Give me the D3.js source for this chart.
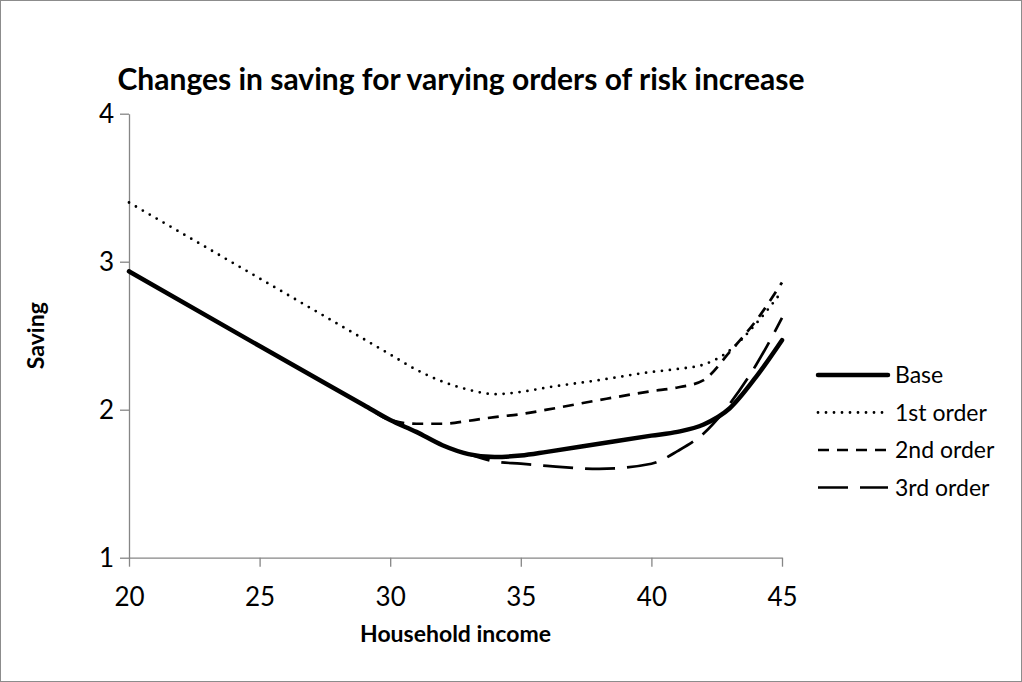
<!DOCTYPE html>
<html>
<head>
<meta charset="utf-8">
<script src="https://cdn.jsdelivr.net/npm/d3@7"></script>
<style>
  body { margin: 0; background: #fff; }
  svg { display: block; font-family: Lato, 'Open Sans', sans-serif; }
</style>
</head>
<body>
<script>
// values
var income = [20, 25, 29, 30, 31, 32, 33, 34, 35, 36, 38, 40, 41, 42, 43, 44, 45];
var base   = [2.935, 2.43, 2.03, 1.93, 1.85, 1.76, 1.70, 1.68, 1.69, 1.715, 1.77, 1.825, 1.85, 1.90, 2.01, 2.22, 2.47];
var first  = [3.40, 2.887, 2.476, 2.373, 2.27, 2.19, 2.135, 2.105, 2.12, 2.15, 2.20, 2.255, 2.275, 2.305, 2.40, 2.58, 2.80];
var second = [2.935, 2.43, 2.03, 1.93, 1.905, 1.905, 1.925, 1.95, 1.97, 2.00, 2.065, 2.125, 2.15, 2.20, 2.39, 2.60, 2.86];
var third  = [2.935, 2.43, 2.03, 1.93, 1.85, 1.76, 1.70, 1.65, 1.635, 1.62, 1.60, 1.635, 1.72, 1.84, 2.04, 2.30, 2.62];
var seriesNames = ['Base', '1st order', '2nd order', '3rd order'];
var xTicks = [20, 25, 30, 35, 40, 45];
var yTicks = [1, 2, 3, 4];

var width = 1022, height = 682;
var plot = {left: 129, right: 782, top: 113.7, bottom: 557.7};

var svg = d3.select('body')
    .append('svg')
    .attr('width', width)
    .attr('height', height);

// outer frame
svg.append('rect')
    .attr('x', 0.5)
    .attr('y', 0.5)
    .attr('width', width - 1)
    .attr('height', height - 1)
    .attr('fill', '#fff')
    .attr('stroke', '#8c8c8c')
    .attr('stroke-width', 1);

var x = d3.scaleLinear().domain([20, 45]).range([plot.left, plot.right]);
var y = d3.scaleLinear().domain([1, 4]).range([plot.bottom, plot.top]);

// axes
var xAxis = svg.append('g')
    .attr('transform', 'translate(0,' + plot.bottom + ')')
    .call(d3.axisBottom(x).tickValues(xTicks).tickFormat(d3.format('d'))
        .tickSize(9).tickSizeOuter(0).tickPadding(21));
var yAxis = svg.append('g')
    .attr('transform', 'translate(' + plot.left + ',0)')
    .call(d3.axisLeft(y).tickValues(yTicks).tickFormat(d3.format('d'))
        .tickSize(9).tickSizeOuter(0).tickPadding(6));

[xAxis, yAxis].forEach(function(ax) {
    ax.select('.domain').attr('stroke', '#868686').attr('stroke-width', 1.3);
    ax.selectAll('.tick line').attr('stroke', '#868686').attr('stroke-width', 1.3);
    ax.selectAll('.tick text')
        .attr('fill', '#000')
        .style('font-family', 'Lato, sans-serif')
        .style('font-size', '26px');
});

// series lines
var styles = [
    {width: 4.5, dash: null, cap: 'round'},
    {width: 2.8, dash: '0,8', cap: 'round'},
    {width: 2.7, dash: '11,8', cap: 'butt'},
    {width: 2.7, dash: '30,12', cap: 'butt'}
];
var allSeries = [base, first, second, third];

var line = d3.line()
    .x(function(d, i) { return x(income[i]); })
    .y(function(d) { return y(d); })
    .curve(d3.curveMonotoneX);

// draw from back to front so the base sits on top
for (var s = allSeries.length - 1; s >= 0; s--) {
    svg.append('path')
        .datum(allSeries[s])
        .attr('d', line)
        .attr('fill', 'none')
        .attr('stroke', '#000')
        .attr('stroke-width', styles[s].width)
        .attr('stroke-linecap', styles[s].cap)
        .attr('stroke-linejoin', 'round')
        .attr('stroke-dasharray', styles[s].dash);
}

// title
svg.append('text')
    .attr('x', 461)
    .attr('y', 90)
    .attr('text-anchor', 'middle')
    .style('font-size', '30px')
    .style('font-weight', 'bold')
    .text('Changes in saving for varying orders of risk increase');

// axis titles
svg.append('text')
    .attr('x', (plot.left + plot.right) / 2)
    .attr('y', 642)
    .attr('text-anchor', 'middle')
    .style('font-size', '23px')
    .style('font-weight', 'bold')
    .text('Household income');

svg.append('text')
    .attr('transform', 'translate(44,' + (plot.top + plot.bottom) / 2 + ') rotate(-90)')
    .attr('text-anchor', 'middle')
    .style('font-size', '23px')
    .style('font-weight', 'bold')
    .text('Saving');

// legend
var legend = svg.append('g');
for (var i = 0; i < seriesNames.length; i++) {
    var ly = 375 + i * 37.5;
    legend.append('line')
        .attr('x1', 818)
        .attr('x2', 888)
        .attr('y1', ly)
        .attr('y2', ly)
        .attr('stroke', '#000')
        .attr('stroke-width', styles[i].width)
        .attr('stroke-linecap', styles[i].cap)
        .attr('stroke-dasharray', styles[i].dash);
    legend.append('text')
        .attr('x', 895)
        .attr('y', ly)
        .attr('dy', '0.35em')
        .style('font-size', '23px')
        .text(seriesNames[i]);
}
</script>
</body>
</html>
